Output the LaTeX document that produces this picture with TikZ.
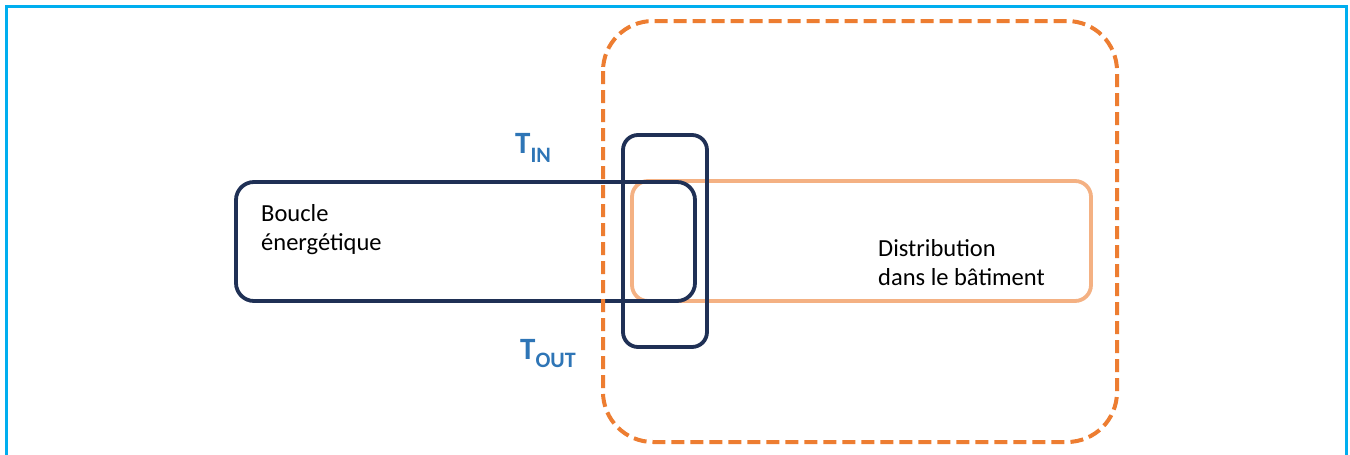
\documentclass[tikz,border=0pt]{standalone}
\usepackage{fontspec}
\setmainfont{Carlito}
\definecolor{frameblue}{HTML}{00AEEF}
\definecolor{navy}{HTML}{1F3055}
\definecolor{peach}{HTML}{F4B183}
\definecolor{dorange}{HTML}{ED7D31}
\definecolor{tblue}{HTML}{2E75B6}
\tikzset{
  navybox/.style={draw=navy, line width=3.8pt, rounded corners=18pt},
  peachbox/.style={draw=peach, line width=3.8pt, rounded corners=16pt},
  dashbox/.style={draw=dorange, line width=4pt, dash pattern=on 13pt off 6pt, rounded corners=50pt},
  lbl/.style={anchor=base west, inner sep=0pt, font=\fontsize{24.5}{28.5}\selectfont, align=left},
  tlbl/.style={anchor=base west, inner sep=0pt, text=tblue, font=\bfseries}
}
\begin{document}
\begin{tikzpicture}[x=1pt,y=-1pt]
\useasboundingbox (0,0) rectangle (1350,455);
\fill[white] (0,0) rectangle (1350,455);
\draw[frameblue, line width=3pt] (6,460) -- (6,6) -- (1346,6) -- (1346,460);
\draw[peachbox] (632,181) rectangle (1091,301);
\draw[navybox] (236,182) rectangle (695,301);
\draw[navybox, rounded corners=15pt] (623,135) rectangle (707,347);
\draw[dashbox] (603,21) rectangle (1117,442);
\node[lbl] (boucle) at (261,250) {Boucle\\énergétique};
\node[lbl] (distr) at (878,285) {Distribution\\dans le bâtiment};
\node[tlbl] (tin) at (515,153) {\fontsize{31}{31}\selectfont T\raisebox{-9pt}{\fontsize{22}{22}\selectfont IN}};
\node[tlbl] (tout) at (520,359) {\fontsize{31}{31}\selectfont T\raisebox{-8pt}{\fontsize{22}{22}\selectfont OUT}};
\end{tikzpicture}
\end{document}
